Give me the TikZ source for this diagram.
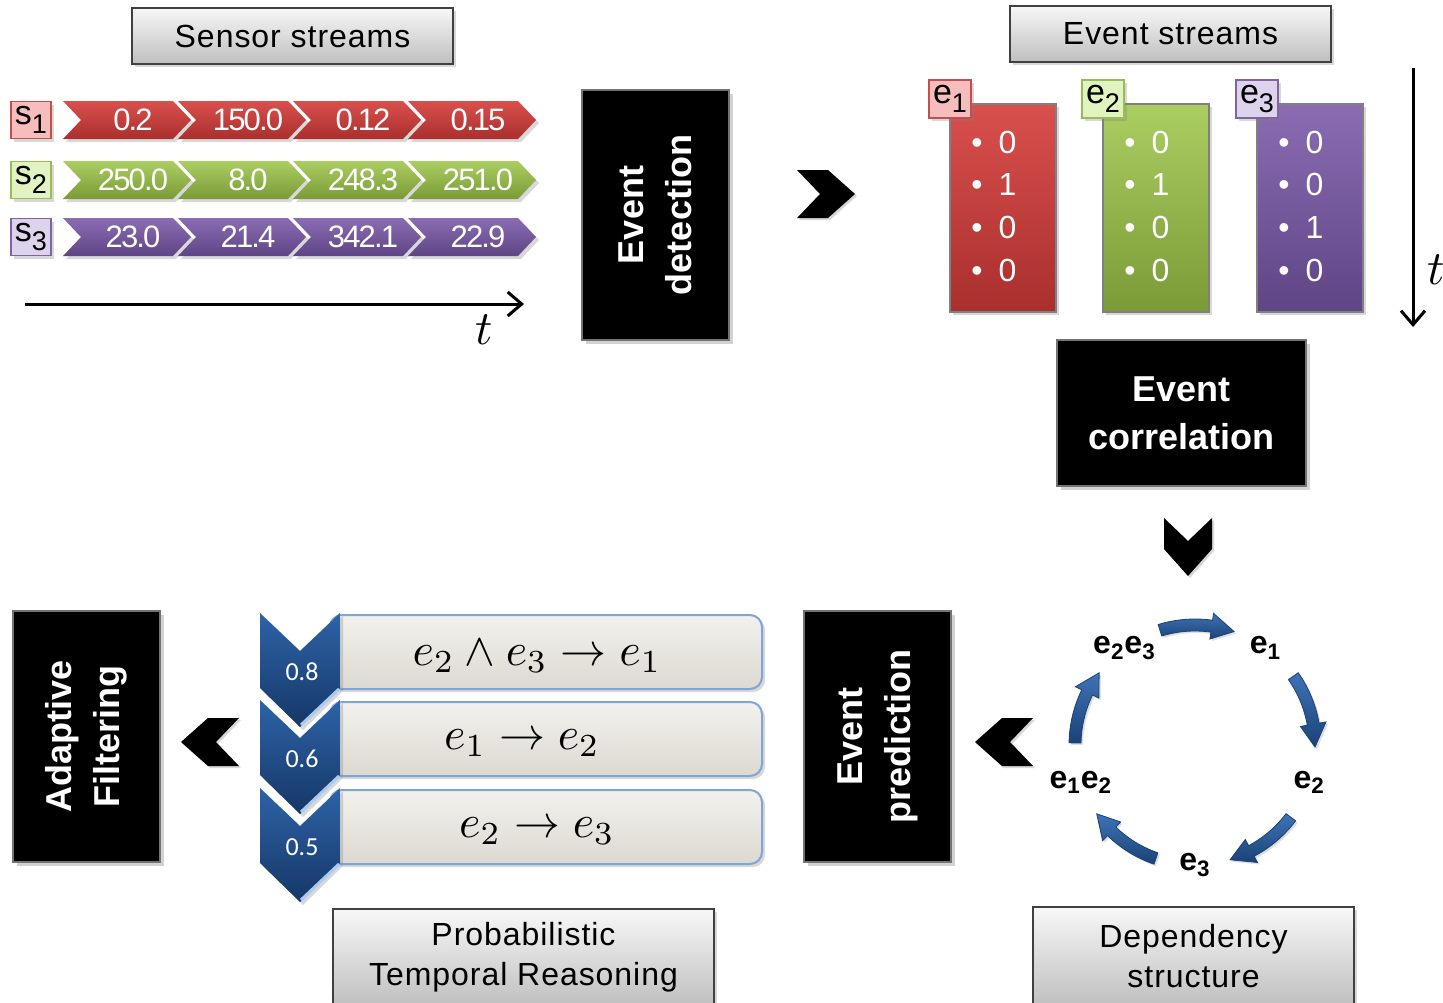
\documentclass[tikz,border=0pt]{standalone}
\usepackage{graphicx}
\usepackage{fontspec}
\setmainfont{Liberation Sans}
\newfontfamily\tightsf[LetterSpace=-6]{Liberation Sans}
\newfontfamily\widesf[LetterSpace=3]{Liberation Sans}
\newfontfamily\calibsf{Carlito}
\usetikzlibrary{shadows,arrows.meta}

% large lowered index used in the small tag boxes
\newcommand{\tagsub}[1]{\raisebox{-0.5ex}{\fontsize{13.5}{13.5}\selectfont #1}}

\definecolor{redA}{HTML}{D9504D}
\definecolor{redB}{HTML}{A92F2D}
\definecolor{grnA}{HTML}{ABCE62}
\definecolor{grnB}{HTML}{7A9A36}
\definecolor{purA}{HTML}{8B6CB3}
\definecolor{purB}{HTML}{5E4585}
\definecolor{redL}{HTML}{F7BDBC}
\definecolor{grnL}{HTML}{E0F3C0}
\definecolor{purL}{HTML}{DED3EC}
\definecolor{redE}{HTML}{C0504D}
\definecolor{grnE}{HTML}{9BBB59}
\definecolor{purE}{HTML}{8064A2}
\definecolor{navyA}{HTML}{2D63A8}
\definecolor{navyB}{HTML}{163766}
\definecolor{navyL}{HTML}{A9CBF0}
\definecolor{ringA}{HTML}{3F73B5}
\definecolor{ringB}{HTML}{1A4277}
\definecolor{ruleA}{HTML}{F2F1ED}
\definecolor{ruleB}{HTML}{DCD9D1}
\definecolor{ruleE}{HTML}{7FA6D6}

\begin{document}
\begin{tikzpicture}[x=0.5pt, y=-0.5pt,
  softshadow/.style={drop shadow={opacity=0.3, shadow xshift=1.5pt, shadow yshift=-1.5pt}},
  titlebox/.style={draw=black!75, line width=0.7pt, top color=black!3, bottom color=black!25,
    softshadow, font=\widesf\fontsize{16}{20}\selectfont, align=center, inner sep=0pt},
  stagebox/.style={draw=black!55, line width=0.8pt, fill=black, inner sep=0pt,
    drop shadow={opacity=0.35, shadow xshift=2pt, shadow yshift=-2pt}},
  stagetext/.style={text=white, font=\bfseries\fontsize{18}{24}\selectfont, align=center, inner sep=0pt},
  chevtext/.style={text=white, font=\tightsf\fontsize{15.5}{15.5}\selectfont, inner sep=0pt},
  tagbox/.style={line width=0.8pt, minimum width=20pt, minimum height=18.5pt, inner sep=0pt,
    font=\fontsize{17}{17}\selectfont, softshadow},
  evbox/.style={draw=white!50!black, line width=0.6pt, minimum width=53pt, minimum height=104pt,
    inner sep=0pt, softshadow},
  bittext/.style={text=white, font=\fontsize{16}{16}\selectfont, inner sep=0pt, anchor=west},
  ringtext/.style={font=\bfseries\fontsize{16}{16}\selectfont, inner sep=0pt},
  rulebox/.style={draw=ruleE, line width=1pt, top color=ruleA, bottom color=ruleB, rounded corners=6pt,
    minimum width=216pt, minimum height=37pt, inner sep=0pt, softshadow},
  ruletext/.style={inner sep=0pt},
  probtext/.style={text=white, font=\calibsf\fontsize{13}{13}\selectfont, inner sep=0pt},
  axis/.style={line width=1.5pt, -{Straight Barb[length=7pt, width=12pt, line width=1.5pt]}},
  flowchev/.pic={\fill[black, drop shadow={opacity=0.3, shadow xshift=1pt, shadow yshift=-1pt}]
    (-29,-24) -- (2,-24) -- (29,0) -- (2,24) -- (-29,24) -- (-6,0) -- cycle;},
]
\fill[white] (0,0) rectangle (1443,1002);
\useasboundingbox (0,0) rectangle (1443,1002);

% ---------- headings ----------
\node[titlebox, minimum width=160.5pt, minimum height=28pt] (sensT) at (292.5,36) {Sensor streams};
\node[titlebox, minimum width=160.5pt, minimum height=28pt] (evT) at (1170.5,34) {Event streams};

% ---------- sensor streams ----------
\node[tagbox, fill=redL, draw=redE] (s1) at (31,120) {s\tagsub{1}};
\node[tagbox, fill=grnL, draw=grnE] (s2) at (31,180) {s\tagsub{2}};
\node[tagbox, fill=purL, draw=purE] (s3) at (31,237) {s\tagsub{3}};

\foreach \yc/\ca/\cb/\vals [count=\r] in
  {120/redA/redB/{0.2,150.0,0.12,0.15},
   180/grnA/grnB/{250.0,8.0,248.3,251.0},
   237/purA/purB/{23.0,21.4,342.1,22.9}}{
  \foreach \v [count=\k from 0] in \vals {
    \path[top color=\ca, bottom color=\cb, softshadow, shift={(63+115*\k,\yc)}]
      (0,-19) -- (110,-19) -- (128,0) -- (110,19) -- (0,19) -- (18,0) -- cycle;
    \node[chevtext] (v\r\k) at (63+115*\k+70,\yc) {\v};
  }
}

% time axis of the sensor streams
\coordinate (tA) at (25,304);
\coordinate (tB) at (524,304);
\draw[axis] (tA) -- (tB);
\node[inner sep=0pt] (tH) at (484,330) {\scalebox{2.4}{$t$}};

% ---------- event detection ----------
\node[stagebox, minimum width=73.5pt, minimum height=125pt] (det) at (655.5,215) {};
\node[stagetext, rotate=90] (detL) at (det.center) {Event\\detection};
\pic at (826,194) {flowchev};

% ---------- event streams ----------
\foreach \x/\ca/\cb/\cl/\ce/\bits [count=\i] in
  {950/redA/redB/redL/redE/{0,1,0,0},
   1103/grnA/grnB/grnL/grnE/{0,1,0,0},
   1257/purA/purB/purL/purE/{0,0,1,0}}{
  \node[evbox, top color=\ca, bottom color=\cb] (E\i) at (\x+53,208) {};
  \foreach \b [count=\j from 0] in \bits {
    \node[bittext] (b\i\j) at (\x+21,142+42.7*\j) {\textbullet\hspace{8pt}\b};
  }
  \node[tagbox, fill=\cl, draw=\ce, minimum width=21pt, minimum height=19pt] (L\i) at (\x,99) {e\tagsub{\i}};
}

% time axis of the event streams
\coordinate (tC) at (1413,68);
\coordinate (tD) at (1413,327);
\draw[axis] (tC) -- (tD);
\node[inner sep=0pt] (tV) at (1436,270) {\scalebox{2.4}{$t$}};

% ---------- event correlation ----------
\node[stagebox, minimum width=124.5pt, minimum height=73pt] (cor) at (1181.5,413) {};
\node[stagetext] (corL) at (cor.center) {Event\\correlation};
\pic[rotate=-90] at (1188,547) {flowchev};

% ---------- dependency structure ----------
\begin{scope}[shift={(1195,745)}, yscale=-1]
  \node[ringtext] (c1)  at (54:120)   {e\textsubscript{1}};
  \node[ringtext] (c2)  at (-18:120)  {e\textsubscript{2}};
  \node[ringtext] (c3)  at (-90:120)  {e\textsubscript{3}};
  \node[ringtext] (c12) at (-162:120) {e\textsubscript{1}e\textsubscript{2}};
  \node[ringtext] (c23) at (126:120)  {e\textsubscript{2}e\textsubscript{3}};
  \foreach \m in {90,18,-54,-126,162}{
    \path[draw=ringB, line width=0.4pt, top color=ringA, bottom color=ringB,
          drop shadow={opacity=0.25, shadow xshift=1pt, shadow yshift=-1pt}]
      ({\m+17}:126) arc[start angle=\m+17, end angle=\m-8, radius=126]
      -- ({\m-8}:133) -- ({\m-19}:120) -- ({\m-8}:107) -- ({\m-8}:114)
      arc[start angle=\m-8, end angle=\m+17, radius=114] -- cycle;
  }
\end{scope}
\node[titlebox, minimum width=160.5pt, minimum height=49.5pt] (depT) at (1193.5,956.5)
  {Dependency\\structure};

% ---------- event prediction ----------
\node[stagebox, minimum width=73.5pt, minimum height=125.5pt] (pre) at (877.5,736.5) {};
\node[stagetext, rotate=90] (preL) at (pre.center) {Event\\prediction};
\pic[rotate=180] at (1004,742) {flowchev};

% ---------- probabilistic temporal rules ----------
\foreach \yo/\p/\fx/\f [count=\i] in
  {613/0.8/537/{e_2\wedge e_3\to e_1},
   700/0.6/522/{e_1\to e_2},
   788/0.5/537/{e_2\to e_3}}{
  \node[rulebox] (R\i) at (546,\yo+39) {};
  \path[top color=navyA, bottom color=navyB, softshadow]
    (260,\yo) -- (300,\yo+38) -- (340,\yo) -- (340,\yo+75) -- (300,\yo+114) -- (260,\yo+75) -- cycle;
  \draw[navyL, line width=1.5pt] (301,\yo+112) -- (339,\yo+76);
  \node[probtext] (p\i) at (302,\yo+59) {\p};
  \node[ruletext] (f\i) at (\fx,\yo+43) {\scalebox{2.3}{$\f$}};
}
\node[titlebox, minimum width=190.5pt, minimum height=48.5pt] (probT) at (523.5,957.5)
  {Probabilistic\\Temporal Reasoning};

% ---------- adaptive filtering ----------
\node[stagebox, minimum width=73.5pt, minimum height=125.5pt] (ada) at (86.5,736.5) {};
\node[stagetext, rotate=90] (adaL) at (ada.center) {Adaptive\\Filtering};
\pic[rotate=180] at (210,742) {flowchev};
\end{tikzpicture}
\end{document}
